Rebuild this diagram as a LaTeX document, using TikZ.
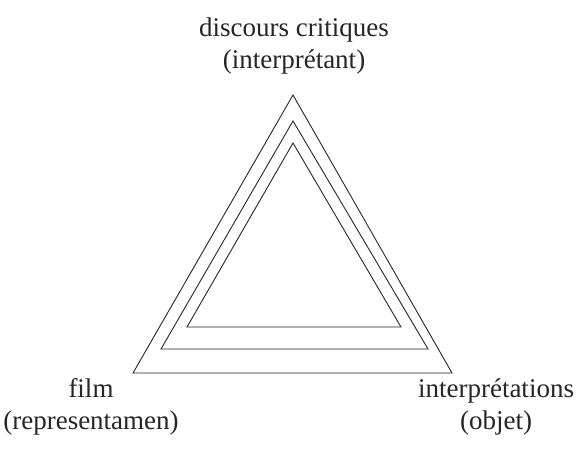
\documentclass[tikz,border=0pt]{standalone}
\usepackage{fontspec}
\setmainfont{Liberation Serif}
\begin{document}
\begin{tikzpicture}[x=1pt,y=-1pt,
  tri/.style={draw=black!85,line width=0.9pt,line join=miter},
  lbl/.style={font=\fontsize{27}{32}\selectfont,align=center,inner sep=0pt,text=black!85}]
\useasboundingbox (0,0) rectangle (577,452);
% outer triangle
\coordinate (oa) at (293,95);
\coordinate (ol) at (133,373);
\coordinate (or) at (452,373);
\coordinate (ma) at (293,121);
\coordinate (ml) at (161,349);
\coordinate (mr) at (428,349);
\coordinate (ia) at (293,143);
\coordinate (il) at (187,327);
\coordinate (ir) at (401,327);
\draw[tri] (oa) -- (ol) -- (or) -- cycle;
\draw[tri] (ma) -- (ml) -- (mr) -- cycle;
\draw[tri] (ia) -- (il) -- (ir) -- cycle;
\node[lbl] (top) at (294,46) {discours critiques\\(interprétant)};
\node[lbl] (left) at (91,407) {film\\(representamen)};
\node[lbl] (right) at (496,407) {interprétations\\(objet)};
\end{tikzpicture}
\end{document}
